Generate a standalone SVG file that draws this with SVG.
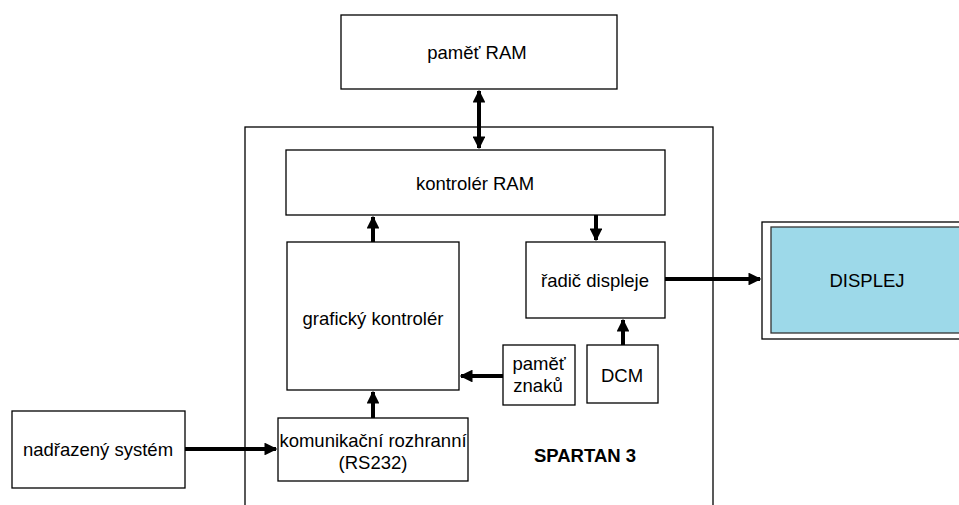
<svg xmlns="http://www.w3.org/2000/svg" width="959" height="505" viewBox="0 0 959 505">
<style>
.box{fill:#fff;stroke:#000;stroke-width:1.3}
.t{font-family:"Liberation Sans",Arial,sans-serif;font-size:18.5px;fill:#000;text-anchor:middle}
.c{stroke:#000;stroke-width:4;fill:none}
</style>
<defs>
<marker id="ah" viewBox="0 0 10 10" refX="9" refY="5" markerWidth="3.2" markerHeight="3.2" orient="auto-start-reverse" markerUnits="strokeWidth">
<path d="M0,0 L10,5 L0,10 z" fill="#000"/>
</marker>
</defs>
<rect width="959" height="505" fill="#fff"/>
<g id="spartan">
<rect class="box" x="245" y="127" width="468" height="390"/>
<text class="t" x="585" y="462" style="font-weight:bold">SPARTAN 3</text>
</g>
<g id="pamet-ram">
<rect class="box" x="341" y="15" width="276" height="74"/>
<text class="t" x="477" y="59">paměť RAM</text>
</g>
<g id="kontroler-ram">
<rect class="box" x="286" y="150" width="379" height="65"/>
<text class="t" x="475" y="190">kontrolér RAM</text>
</g>
<g id="graficky-kontroler">
<rect class="box" x="287" y="242" width="172" height="148"/>
<text class="t" x="373" y="325">grafický kontrolér</text>
</g>
<g id="radic-displeje">
<rect class="box" x="526" y="242" width="139" height="76"/>
<text class="t" x="595" y="287">řadič displeje</text>
</g>
<g id="pamet-znaku">
<rect class="box" x="503" y="345" width="72" height="60"/>
<text class="t" x="539" y="370">paměť</text>
<text class="t" x="538" y="392">znaků</text>
</g>
<g id="dcm">
<rect class="box" x="587" y="345" width="71" height="58"/>
<text class="t" x="622" y="382">DCM</text>
</g>
<g id="komunikacni">
<rect class="box" x="278" y="418" width="190" height="63"/>
<text class="t" x="373" y="447">komunikační rozhranní</text>
<text class="t" x="373" y="469">(RS232)</text>
</g>
<g id="nadrazeny">
<rect class="box" x="12" y="411" width="173" height="77"/>
<text class="t" x="98" y="456">nadřazený systém</text>
</g>
<g id="displej">
<rect class="box" x="762" y="222" width="205" height="117"/>
<rect x="771" y="227" width="196" height="106" fill="#9dd9e9" stroke="#333" stroke-width="1.3"/>
<text class="t" x="867" y="287">DISPLEJ</text>
</g>
<g id="connectors">
<line class="c" x1="479" y1="91" x2="479" y2="148" marker-start="url(#ah)" marker-end="url(#ah)"/>
<line class="c" x1="373" y1="242" x2="373" y2="217" marker-end="url(#ah)"/>
<line class="c" x1="596" y1="215" x2="596" y2="240" marker-end="url(#ah)"/>
<line class="c" x1="665" y1="279" x2="760" y2="279" marker-end="url(#ah)"/>
<line class="c" x1="503" y1="376" x2="461" y2="376" marker-end="url(#ah)"/>
<line class="c" x1="623" y1="345" x2="623" y2="320" marker-end="url(#ah)"/>
<line class="c" x1="373" y1="418" x2="373" y2="392" marker-end="url(#ah)"/>
<line class="c" x1="185" y1="449" x2="276" y2="449" marker-end="url(#ah)"/>
</g>
</svg>
